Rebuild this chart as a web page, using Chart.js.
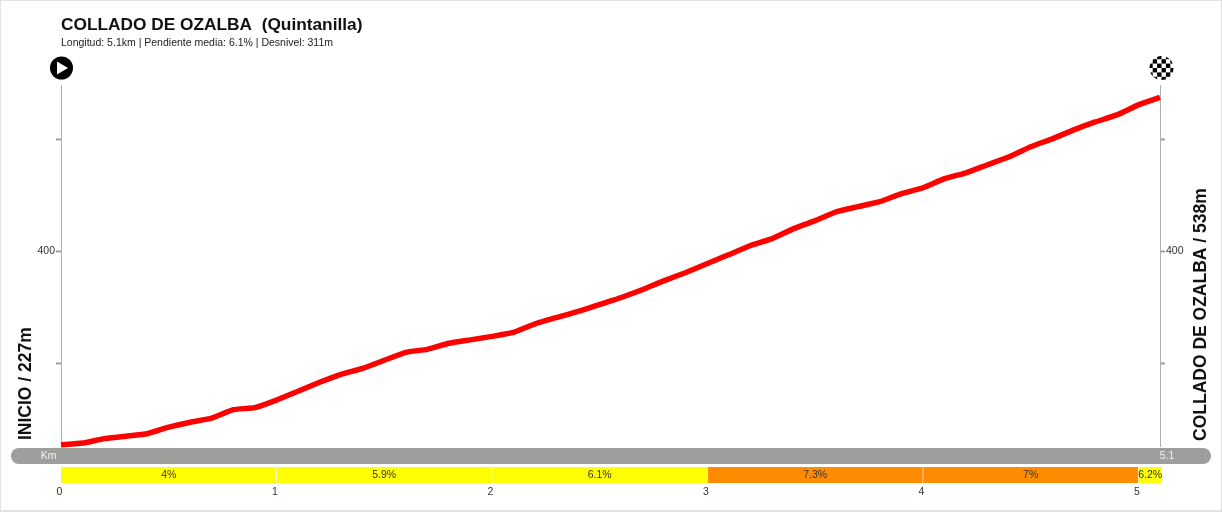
<!DOCTYPE html>
<html lang="es">
<head>
<meta charset="utf-8">
<title>COLLADO DE OZALBA</title>
<script src="https://cdn.jsdelivr.net/npm/chart.js@4"></script>
<style>
html,body{margin:0;padding:0;background:#fff}
canvas{display:block}
</style>
</head>
<body>
<canvas id="c" width="1222" height="512"></canvas>
<script>
const titleText = 'COLLADO DE OZALBA  (Quintanilla)';
const subtitleText = 'Longitud: 5.1km | Pendiente media: 6.1% | Desnivel: 311m';
const startLabel = 'INICIO / 227m';
const endLabel = 'COLLADO DE OZALBA / 538m';

const distanceKm = [0,0.1,0.2,0.3,0.4,0.5,0.6,0.7,0.8,0.9,1,1.1,1.2,1.3,1.4,1.5,1.6,1.7,1.8,1.9,2,2.1,2.2,2.3,2.4,2.5,2.6,2.7,2.8,2.9,3,3.1,3.2,3.3,3.4,3.5,3.6,3.7,3.8,3.9,4,4.1,4.2,4.3,4.4,4.5,4.6,4.7,4.8,4.9,5,5.1];
const elevationM = [227,228.6,232.6,234.8,237,242.9,247.3,250.9,258.5,260.3,267,275,283,290.2,295.5,302.7,309.8,312.5,317.9,321,324.1,327.7,335.3,341,346.4,352.7,358.9,366,374,381.3,389.3,397.3,405.4,411.6,420.5,427.7,435.7,440.2,444.6,451.8,457.1,465.2,470.5,477.7,484.8,493.8,500.9,508.9,516,522.3,531.3,538];

const segmentStart = [0,1,2,3,4,5];
const segmentEnd = [1,2,3,4,5,5.1];
const segmentGrade = ['4%','5.9%','6.1%','7.3%','7%','6.2%'];
const segmentColor = ['#ffff00','#ffff00','#ffff00','#ff8c00','#ff8c00','#ffff00'];
const kmBarLabels = ['Km','5.1'];

const extras = {
  id:'extras',
  afterDatasetsDraw(chart){
    const {ctx, scales:{x}} = chart;
    const F = '"Liberation Sans", Arial, sans-serif';
    ctx.save();
    // frame
    ctx.strokeStyle='#e2e2e2'; ctx.lineWidth=2;
    ctx.strokeRect(0,0,1222,511);

    // km bar
    ctx.fillStyle='#9e9e9c';
    ctx.beginPath(); ctx.roundRect(11,448,1200,16,8); ctx.fill();
    ctx.fillStyle='#f4f4f4'; ctx.font='10.5px '+F;
    ctx.textAlign='center'; ctx.textBaseline='middle';
    ctx.fillText(kmBarLabels[0],48.5,456.5);
    ctx.fillText(kmBarLabels[1],x.getPixelForValue(5.1)+7,456.5);

    // gradient segments
    segmentGrade.forEach((g,i)=>{
      const a=x.getPixelForValue(segmentStart[i]), b=x.getPixelForValue(segmentEnd[i]);
      ctx.fillStyle=segmentColor[i];
      ctx.fillRect(a,467,b-a+(i===5?2:0),16);
      if(i>0){ctx.fillStyle='rgba(255,255,255,.6)';ctx.fillRect(a-0.5,467,1,16);}
      ctx.fillStyle='#333'; ctx.font='10.5px '+F;
      ctx.fillText(g,(a+b)/2+(i===5?1:0),475.5);
    });

    // rotated end labels
    ctx.fillStyle='#111'; ctx.font='bold 17.5px '+F;
    ctx.textAlign='left'; ctx.textBaseline='middle';
    ctx.save(); ctx.translate(26,440); ctx.rotate(-Math.PI/2); ctx.fillText(startLabel,0,0); ctx.restore();
    ctx.save(); ctx.translate(1201,441); ctx.rotate(-Math.PI/2); ctx.fillText(endLabel,0,0); ctx.restore();

    // start icon
    const sx=x.getPixelForValue(0)+0.5, cy=68;
    ctx.fillStyle='#000';
    ctx.beginPath(); ctx.arc(sx,cy,11.5,0,Math.PI*2); ctx.fill();
    ctx.fillStyle='#fff';
    ctx.beginPath(); ctx.moveTo(sx-4.5,cy-6.5); ctx.lineTo(sx+6.5,cy); ctx.lineTo(sx-4.5,cy+6.5); ctx.closePath(); ctx.fill();

    // finish icon
    const fx=x.getPixelForValue(5.1)+1.5;
    ctx.save();
    ctx.beginPath(); ctx.arc(fx,cy,12,0,Math.PI*2); ctx.clip();
    ctx.fillStyle='#fff'; ctx.fillRect(fx-12,cy-12,24,24);
    ctx.fillStyle='#000';
    const cell=4.4;
    for(let r=-3;r<3;r++)for(let q=-3;q<3;q++){
      if((r+q+6)%2===0) ctx.fillRect(fx+q*cell,cy+r*cell,cell,cell);
    }
    ctx.restore();
    ctx.restore();
  }
};

const yMin=226, yMax=548.2;
const elevTick = v => v===400 ? '400' : '';
const yCommon = {
  min:yMin, max:yMax,
  border:{color:'#b0b0b0',width:1},
  grid:{display:true,drawOnChartArea:false,tickLength:5,tickWidth:2,tickColor:'#a0a0a0'},
  ticks:{stepSize:100,includeBounds:false,callback:elevTick,color:'#333',padding:1,
    font:{family:'"Liberation Sans", Arial, sans-serif',size:10.5}}
};

new Chart(document.getElementById('c'),{
  type:'line',
  data:{datasets:[{
    data:distanceKm.map((k,i)=>({x:k,y:elevationM[i]})),
    borderColor:'#ff0000',borderWidth:5.5,pointRadius:0,tension:0.15,
    borderJoinStyle:'round',borderCapStyle:'butt',fill:false,clip:false,yAxisID:'y'
  }]},
  options:{
    responsive:false,animation:false,
    layout:{padding:0},
    plugins:{
      legend:{display:false},tooltip:{enabled:false},
      title:{display:true,text:titleText,align:'start',fullSize:false,color:'#111',
        font:{family:'"Liberation Sans", Arial, sans-serif',size:17.3,weight:'bold',lineHeight:1.2},
        padding:{top:15,bottom:0}},
      subtitle:{display:true,text:subtitleText,align:'start',fullSize:false,color:'#222',
        font:{family:'"Liberation Sans", Arial, sans-serif',size:10.5,weight:'normal',lineHeight:1.2},
        padding:{top:1.5,bottom:36.1}}
    },
    scales:{
      x:{type:'linear',min:0,max:5.1,
        border:{display:false},grid:{display:false},
        ticks:{stepSize:1,includeBounds:false,maxRotation:0,color:'#333',padding:32,labelOffset:-1.5,
          font:{family:'"Liberation Sans", Arial, sans-serif',size:10.5}},
        afterFit(s){s.height=66;}},
      y:{...yCommon,position:'left',afterFit(s){s.width=61;}},
      y2:{...yCommon,position:'right',afterFit(s){s.width=62;}}
    }
  },
  plugins:[extras]
});
</script>
</body>
</html>
